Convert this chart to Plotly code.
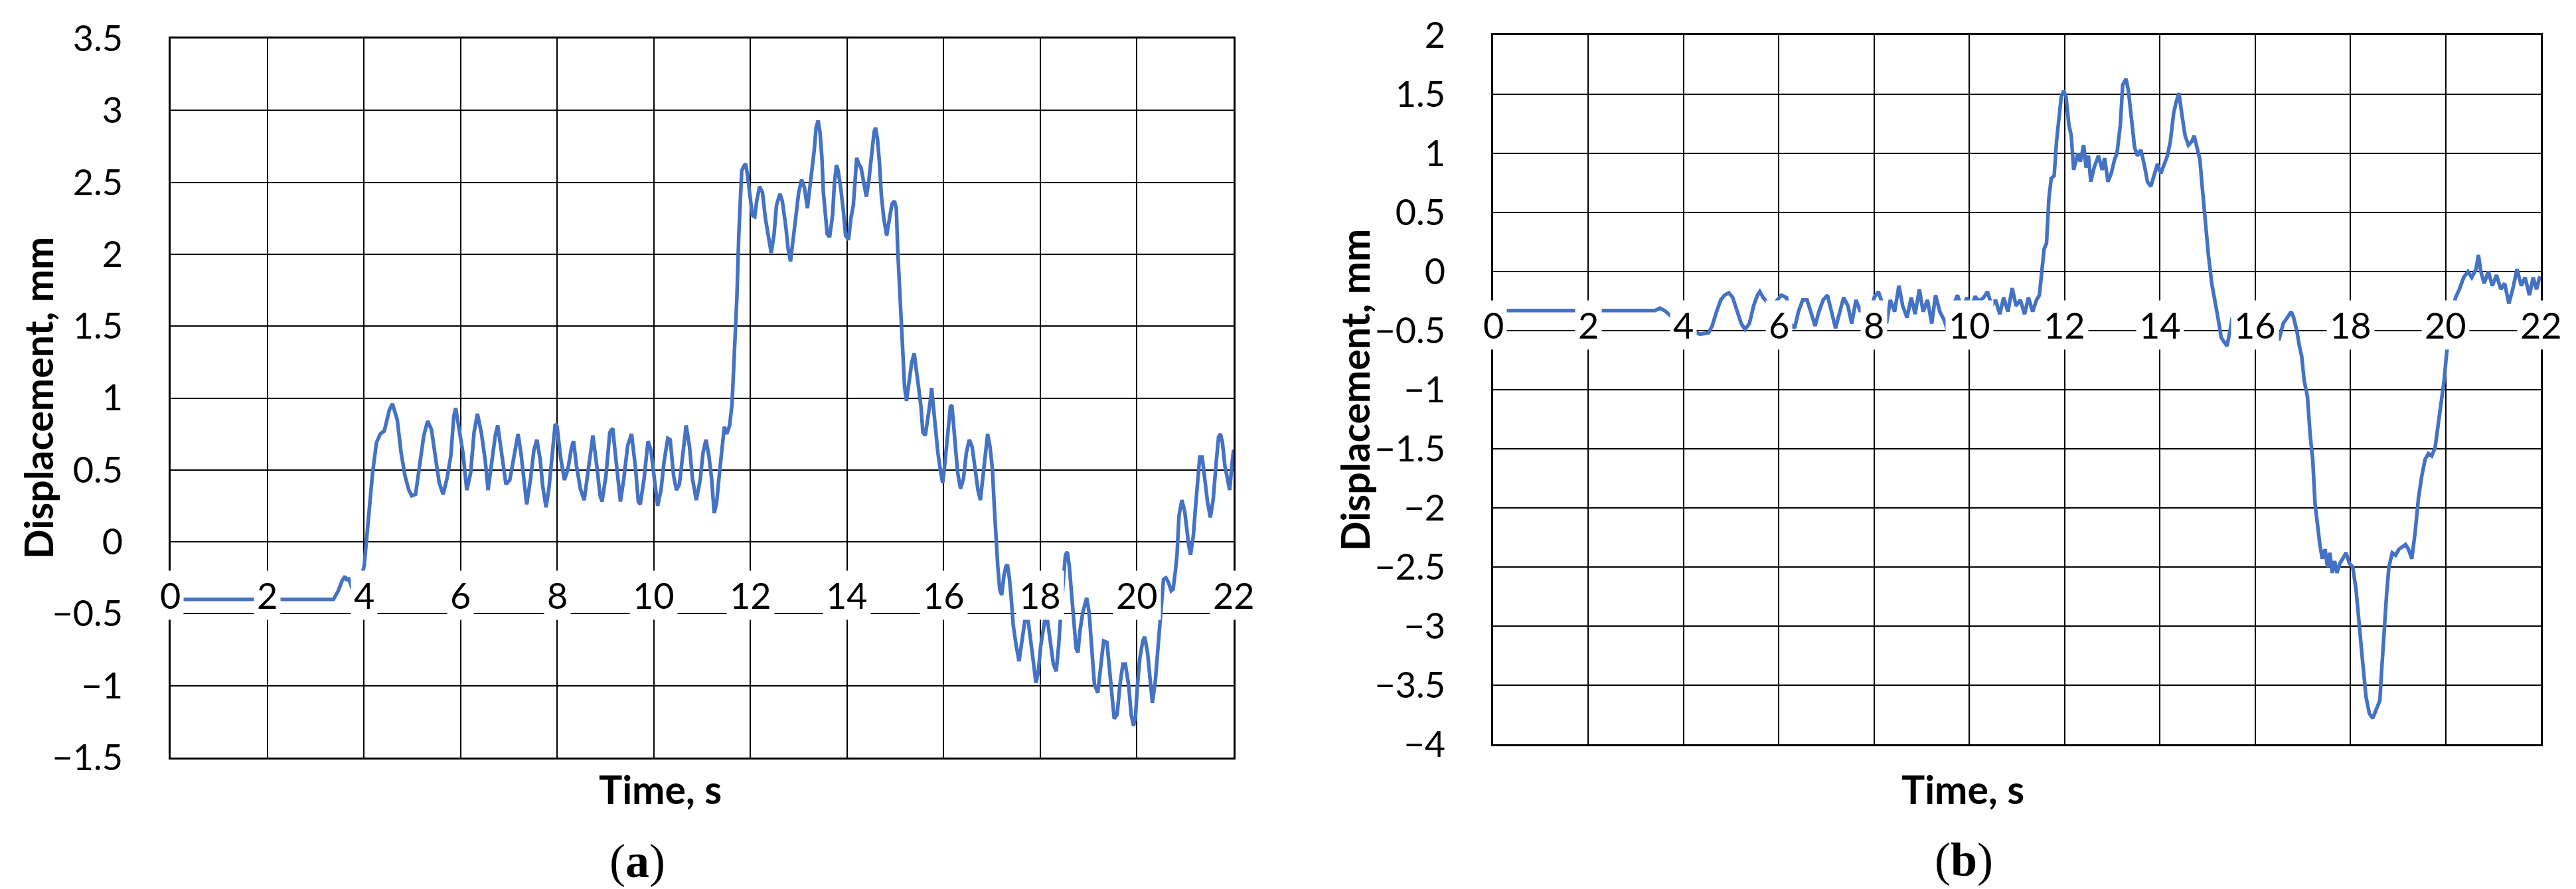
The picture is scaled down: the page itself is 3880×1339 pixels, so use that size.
import plotly.graph_objects as go

# panel (a) - displacement vs time
t_a = [0.0, 3.37, 3.47, 3.55, 3.61, 3.65, 3.68, 3.74, 3.85, 3.95, 4.005, 4.10, 4.18, 4.26, 4.34, 4.42, 4.45, 4.53, 4.59, 4.69,
       4.77, 4.85, 4.93, 4.99, 5.07, 5.16, 5.24, 5.32, 5.40, 5.48, 5.56, 5.64, 5.72, 5.80, 5.86, 5.90, 5.98, 6.05, 6.13, 6.21,
       6.28, 6.35, 6.43, 6.51, 6.57, 6.65, 6.72, 6.77, 6.86, 6.94, 7.02, 7.10, 7.19, 7.25, 7.31, 7.37, 7.45, 7.52, 7.58, 7.65,
       7.70, 7.77, 7.83, 7.89, 7.96, 8.00, 8.07, 8.15, 8.22, 8.30, 8.34, 8.40, 8.48, 8.56, 8.64, 8.74, 8.82, 8.89, 8.93, 9.01,
       9.09, 9.15, 9.23, 9.31, 9.38, 9.46, 9.54, 9.62, 9.68, 9.72, 9.80, 9.88, 9.94, 10.02, 10.08, 10.15, 10.21, 10.29, 10.34, 10.41,
       10.47, 10.53, 10.61, 10.67, 10.74, 10.80, 10.88, 10.96, 11.02, 11.08, 11.14, 11.20, 11.25, 11.30, 11.36, 11.40, 11.46, 11.51, 11.57, 11.62,
       11.68, 11.72, 11.76, 11.79, 11.82, 11.86, 11.90, 11.94, 11.99, 12.04, 12.09, 12.13, 12.19, 12.25, 12.31, 12.37, 12.43, 12.49, 12.54, 12.61,
       12.66, 12.73, 12.78, 12.83, 12.88, 12.94, 13.00, 13.06, 13.12, 13.18, 13.22, 13.28, 13.32, 13.36, 13.40, 13.44, 13.48, 13.51, 13.55, 13.59,
       13.64, 13.70, 13.74, 13.78, 13.81, 13.87, 13.93, 13.97, 14.03, 14.08, 14.13, 14.17, 14.20, 14.24, 14.29, 14.34, 14.40, 14.45, 14.50, 14.56,
       14.59, 14.63, 14.67, 14.71, 14.76, 14.82, 14.88, 14.93, 14.98, 15.02, 15.05, 15.08, 15.12, 15.15, 15.19, 15.23, 15.28, 15.34, 15.39, 15.44,
       15.49, 15.53, 15.57, 15.62, 15.68, 15.72, 15.75, 15.80, 15.88, 15.94, 15.98, 16.02, 16.08, 16.14, 16.17, 16.24, 16.29, 16.35, 16.41, 16.47,
       16.53, 16.59, 16.65, 16.71, 16.76, 16.81, 16.87, 16.91, 16.96, 17.01, 17.05, 17.08, 17.12, 17.16, 17.20, 17.25, 17.29, 17.32, 17.36, 17.40,
       17.44, 17.50, 17.56, 17.62, 17.68, 17.75, 17.81, 17.87, 17.91, 17.96, 18.01, 18.09, 18.15, 18.21, 18.27, 18.33, 18.38, 18.43, 18.48, 18.52,
       18.56, 18.60, 18.65, 18.70, 18.74, 18.78, 18.82, 18.88, 18.96, 19.01, 19.06, 19.12, 19.19, 19.25, 19.31, 19.38, 19.43, 19.47, 19.53, 19.59,
       19.65, 19.71, 19.76, 19.83, 19.88, 19.93, 19.97, 20.01, 20.06, 20.12, 20.16, 20.22, 20.28, 20.32, 20.38, 20.43, 20.50, 20.55, 20.60, 20.65,
       20.71, 20.75, 20.80, 20.83, 20.87, 20.93, 20.99, 21.03, 21.07, 21.11, 21.17, 21.21, 21.26, 21.30, 21.35, 21.40, 21.46, 21.52, 21.58, 21.64,
       21.69, 21.73, 21.77, 21.82, 21.88, 21.92, 21.97, 22.0]
disp_a = [-0.40, -0.40, -0.34, -0.27, -0.24, -0.27, -0.25, -0.31, -0.28, -0.24, -0.17, 0.16, 0.48, 0.69, 0.75, 0.77, 0.81, 0.92, 0.96, 0.85,
          0.62, 0.46, 0.36, 0.32, 0.33, 0.55, 0.74, 0.84, 0.78, 0.59, 0.41, 0.33, 0.44, 0.60, 0.87, 0.93, 0.78, 0.62, 0.36, 0.48,
          0.76, 0.89, 0.76, 0.57, 0.36, 0.55, 0.74, 0.81, 0.60, 0.40, 0.43, 0.59, 0.75, 0.62, 0.44, 0.26, 0.44, 0.64, 0.71, 0.57,
          0.39, 0.24, 0.37, 0.59, 0.82, 0.80, 0.59, 0.43, 0.50, 0.66, 0.70, 0.53, 0.37, 0.29, 0.51, 0.74, 0.53, 0.32, 0.28, 0.46,
          0.76, 0.79, 0.53, 0.28, 0.44, 0.67, 0.75, 0.52, 0.28, 0.26, 0.44, 0.70, 0.64, 0.39, 0.25, 0.36, 0.55, 0.72, 0.71, 0.46,
          0.36, 0.40, 0.62, 0.81, 0.66, 0.44, 0.29, 0.43, 0.62, 0.71, 0.60, 0.43, 0.20, 0.27, 0.48, 0.62, 0.80, 0.75, 0.81, 0.96,
          1.35, 1.70, 2.14, 2.32, 2.58, 2.61, 2.63, 2.55, 2.39, 2.27, 2.26, 2.37, 2.47, 2.43, 2.25, 2.11, 2.01, 2.14, 2.34, 2.42,
          2.37, 2.20, 2.04, 1.95, 2.09, 2.27, 2.43, 2.52, 2.46, 2.32, 2.43, 2.56, 2.72, 2.88, 2.93, 2.85, 2.67, 2.43, 2.27, 2.14,
          2.12, 2.27, 2.50, 2.62, 2.59, 2.46, 2.28, 2.13, 2.10, 2.25, 2.34, 2.58, 2.67, 2.63, 2.60, 2.51, 2.40, 2.51, 2.67, 2.85,
          2.88, 2.80, 2.64, 2.41, 2.25, 2.13, 2.25, 2.35, 2.37, 2.32, 2.02, 1.79, 1.52, 1.26, 1.08, 0.98, 1.10, 1.25, 1.31, 1.20,
          1.05, 0.94, 0.76, 0.74, 0.87, 0.97, 1.07, 0.89, 0.62, 0.48, 0.41, 0.53, 0.76, 0.94, 0.95, 0.66, 0.48, 0.37, 0.44, 0.62,
          0.71, 0.66, 0.50, 0.36, 0.29, 0.44, 0.66, 0.75, 0.66, 0.50, 0.23, 0.00, -0.17, -0.33, -0.37, -0.23, -0.17, -0.16, -0.25, -0.40,
          -0.58, -0.72, -0.83, -0.69, -0.55, -0.55, -0.72, -0.88, -0.98, -0.90, -0.72, -0.55, -0.55, -0.70, -0.85, -0.90, -0.72, -0.47, -0.26, -0.09,
          -0.07, -0.17, -0.37, -0.56, -0.74, -0.77, -0.62, -0.49, -0.39, -0.49, -0.76, -0.99, -1.05, -0.86, -0.69, -0.70, -0.88, -1.02, -1.23, -1.20,
          -0.99, -0.85, -0.85, -1.00, -1.20, -1.28, -1.22, -1.00, -0.81, -0.69, -0.66, -0.77, -1.00, -1.12, -0.97, -0.76, -0.47, -0.26, -0.25, -0.28,
          -0.34, -0.33, -0.19, -0.09, 0.18, 0.29, 0.21, 0.09, -0.02, -0.09, 0.05, 0.23, 0.48, 0.59, 0.59, 0.44, 0.28, 0.17, 0.30, 0.55,
          0.73, 0.75, 0.69, 0.53, 0.41, 0.36, 0.55, 0.64]

# panel (b)
t_b = [0.0, 3.40, 3.50, 3.60, 3.74, 3.90, 4.05, 4.22, 4.34, 4.52, 4.60, 4.69, 4.78, 4.86, 4.95, 5.03, 5.12, 5.21, 5.29, 5.38,
       5.47, 5.55, 5.60, 5.67, 5.75, 5.85, 5.95, 6.05, 6.16, 6.24, 6.33, 6.41, 6.50, 6.59, 6.67, 6.76, 6.84, 6.93, 7.02, 7.10,
       7.19, 7.28, 7.36, 7.45, 7.53, 7.62, 7.71, 7.80, 7.90, 8.00, 8.09, 8.19, 8.26, 8.34, 8.43, 8.52, 8.60, 8.69, 8.78, 8.86,
       8.95, 9.03, 9.12, 9.21, 9.29, 9.38, 9.47, 9.55, 9.65, 9.75, 9.85, 9.95, 10.05, 10.12, 10.20, 10.30, 10.38, 10.47, 10.55, 10.64,
       10.72, 10.81, 10.90, 10.98, 11.07, 11.16, 11.24, 11.33, 11.41, 11.47, 11.52, 11.57, 11.62, 11.67, 11.72, 11.78, 11.83, 11.88, 11.93, 11.98,
       12.03, 12.09, 12.14, 12.19, 12.28, 12.33, 12.40, 12.45, 12.50, 12.55, 12.62, 12.71, 12.79, 12.84, 12.91, 12.98, 13.05, 13.10, 13.17, 13.22,
       13.29, 13.34, 13.40, 13.47, 13.53, 13.60, 13.67, 13.74, 13.81, 13.88, 13.95, 14.02, 14.09, 14.16, 14.22, 14.29, 14.34, 14.40, 14.47, 14.53,
       14.60, 14.67, 14.72, 14.78, 14.84, 14.90, 14.95, 15.02, 15.09, 15.16, 15.22, 15.29, 15.36, 15.41, 15.47, 15.52, 15.60, 15.70, 15.80, 15.90,
       16.00, 16.10, 16.20, 16.30, 16.41, 16.50, 16.59, 16.67, 16.76, 16.81, 16.88, 16.93, 16.98, 17.03, 17.10, 17.16, 17.21, 17.26, 17.31, 17.36,
       17.41, 17.47, 17.52, 17.57, 17.62, 17.67, 17.72, 17.78, 17.84, 17.91, 17.98, 18.05, 18.12, 18.19, 18.26, 18.33, 18.40, 18.47, 18.53, 18.62,
       18.66, 18.71, 18.76, 18.81, 18.88, 18.95, 19.02, 19.09, 19.16, 19.22, 19.29, 19.36, 19.43, 19.50, 19.57, 19.64, 19.71, 19.78, 19.84, 19.91,
       19.97, 20.02, 20.08, 20.14, 20.21, 20.29, 20.38, 20.47, 20.55, 20.64, 20.69, 20.74, 20.81, 20.90, 20.98, 21.07, 21.16, 21.24, 21.33, 21.41,
       21.50, 21.59, 21.67, 21.76, 21.84, 21.91, 21.98]
disp_b = [-0.33, -0.33, -0.31, -0.33, -0.38, -0.42, -0.48, -0.51, -0.53, -0.52, -0.46, -0.34, -0.24, -0.20, -0.18, -0.22, -0.34, -0.44, -0.49, -0.44,
          -0.29, -0.20, -0.17, -0.22, -0.26, -0.30, -0.25, -0.20, -0.22, -0.44, -0.48, -0.34, -0.24, -0.24, -0.34, -0.46, -0.34, -0.24, -0.20, -0.34,
          -0.48, -0.34, -0.22, -0.29, -0.44, -0.24, -0.34, -0.25, -0.38, -0.22, -0.17, -0.29, -0.44, -0.24, -0.34, -0.12, -0.29, -0.39, -0.22, -0.36,
          -0.15, -0.34, -0.24, -0.44, -0.20, -0.34, -0.41, -0.51, -0.30, -0.20, -0.32, -0.22, -0.30, -0.21, -0.25, -0.22, -0.17, -0.29, -0.24, -0.36,
          -0.22, -0.34, -0.14, -0.29, -0.24, -0.36, -0.22, -0.34, -0.24, -0.20, 0.00, 0.19, 0.24, 0.62, 0.79, 0.81, 1.10, 1.29, 1.48, 1.53,
          1.48, 1.24, 1.15, 0.86, 1.00, 0.93, 1.07, 0.88, 0.98, 0.76, 0.88, 0.98, 0.86, 0.96, 0.76, 0.83, 0.95, 1.00, 1.24, 1.58,
          1.63, 1.53, 1.29, 1.05, 0.98, 1.03, 0.91, 0.76, 0.72, 0.83, 0.91, 0.83, 0.91, 0.98, 1.10, 1.34, 1.43, 1.51, 1.31, 1.15,
          1.07, 1.10, 1.15, 1.05, 0.95, 0.67, 0.43, 0.14, -0.10, -0.24, -0.39, -0.56, -0.60, -0.63, -0.51, -0.39, -0.45, -0.40, -0.47, -0.42,
          -0.48, -0.45, -0.52, -0.50, -0.53, -0.58, -0.44, -0.39, -0.34, -0.39, -0.51, -0.63, -0.72, -0.92, -1.06, -1.40, -1.59, -1.97, -2.16, -2.31,
          -2.43, -2.35, -2.50, -2.38, -2.55, -2.45, -2.55, -2.47, -2.43, -2.38, -2.47, -2.50, -2.69, -3.03, -3.31, -3.60, -3.74, -3.78, -3.72, -3.63,
          -3.36, -3.03, -2.74, -2.50, -2.38, -2.40, -2.35, -2.33, -2.31, -2.35, -2.43, -2.21, -1.92, -1.73, -1.59, -1.54, -1.56, -1.49, -1.30, -1.06,
          -0.92, -0.70, -0.50, -0.35, -0.22, -0.15, -0.05, 0.00, -0.05, 0.02, 0.14, 0.00, -0.10, 0.00, -0.12, -0.03, -0.15, -0.10, -0.27, -0.15,
          0.02, -0.12, -0.05, -0.20, -0.05, -0.15, -0.04]

x_ticks = [0, 2, 4, 6, 8, 10, 12, 14, 16, 18, 20, 22]

blue = "#4472C4"
tick_font = dict(family="Lato", size=54, color="black")
title_font = dict(family="Lato", size=59, color="black")
W, H = 3880, 1339

fig = go.Figure()
fig.add_trace(go.Scatter(x=t_a, y=disp_a, mode="lines", line=dict(color=blue, width=5.5),
                         xaxis="x", yaxis="y", showlegend=False))
fig.add_trace(go.Scatter(x=t_b, y=disp_b, mode="lines", line=dict(color=blue, width=5.5),
                         xaxis="x2", yaxis="y2", showlegend=False))

xcommon = dict(range=[0, 22], dtick=2, tick0=0, showgrid=True, gridcolor="black", gridwidth=2,
               showline=True, mirror=True, linecolor="black", linewidth=3, automargin=False,
               showticklabels=False, zeroline=False, ticks="")
ycommon = dict(dtick=0.5, tick0=0, showgrid=True, gridcolor="black", gridwidth=2,
               showline=True, mirror=True, linecolor="black", linewidth=3, automargin=False,
               zeroline=False, ticks="", tickfont=tick_font, ticklabelstandoff=58)

fig.update_layout(
    width=W, height=H,
    margin=dict(l=0, r=0, t=0, b=0, autoexpand=False),
    paper_bgcolor="white", plot_bgcolor="white",
    xaxis=dict(xcommon, domain=[249 / W, 1850 / W], anchor="y"),
    yaxis=dict(ycommon, range=[-1.5, 3.5], domain=[1 - 1133 / H, 1 - 50 / H], anchor="x"),
    xaxis2=dict(xcommon, domain=[2241 / W, 3819 / W], anchor="y2"),
    yaxis2=dict(ycommon, range=[-4, 2], domain=[1 - 1113 / H, 1 - 45 / H], anchor="x2"),
)

# x tick labels sit just under the zero line, on white boxes (Excel style)
ann = []
for xr, yr in (("x", "y"), ("x2", "y2")):
    for t in x_ticks:
        ann.append(dict(x=t, y=0, xref=xr, yref=yr, text=str(t), showarrow=False,
                        xanchor="center", yanchor="middle", yshift=-80,
                        bgcolor="white", borderpad=4, font=tick_font))


def label(px, py, text, font, angle=0):
    # positions in pixels of the full picture, centred
    return dict(x=px / W, y=1 - py / H, xref="paper", yref="paper", text=text,
                xanchor="center", yanchor="middle", textangle=angle,
                showarrow=False, font=font)


serif = dict(family="Liberation Serif", size=72, color="black")
ann.append(label(49, 591, "<b>Displacement, mm</b>", title_font, -90))
ann.append(label(2033, 579, "<b>Displacement, mm</b>", title_font, -90))
ann.append(label(986, 1180, "<b>Time, s</b>", title_font))
ann.append(label(2948, 1180, "<b>Time, s</b>", title_font))
ann.append(label(952, 1289, "(<b>a</b>)", serif))
ann.append(label(2950, 1287, "(<b>b</b>)", serif))
fig.update_layout(annotations=ann)

fig.write_html("out.html")
